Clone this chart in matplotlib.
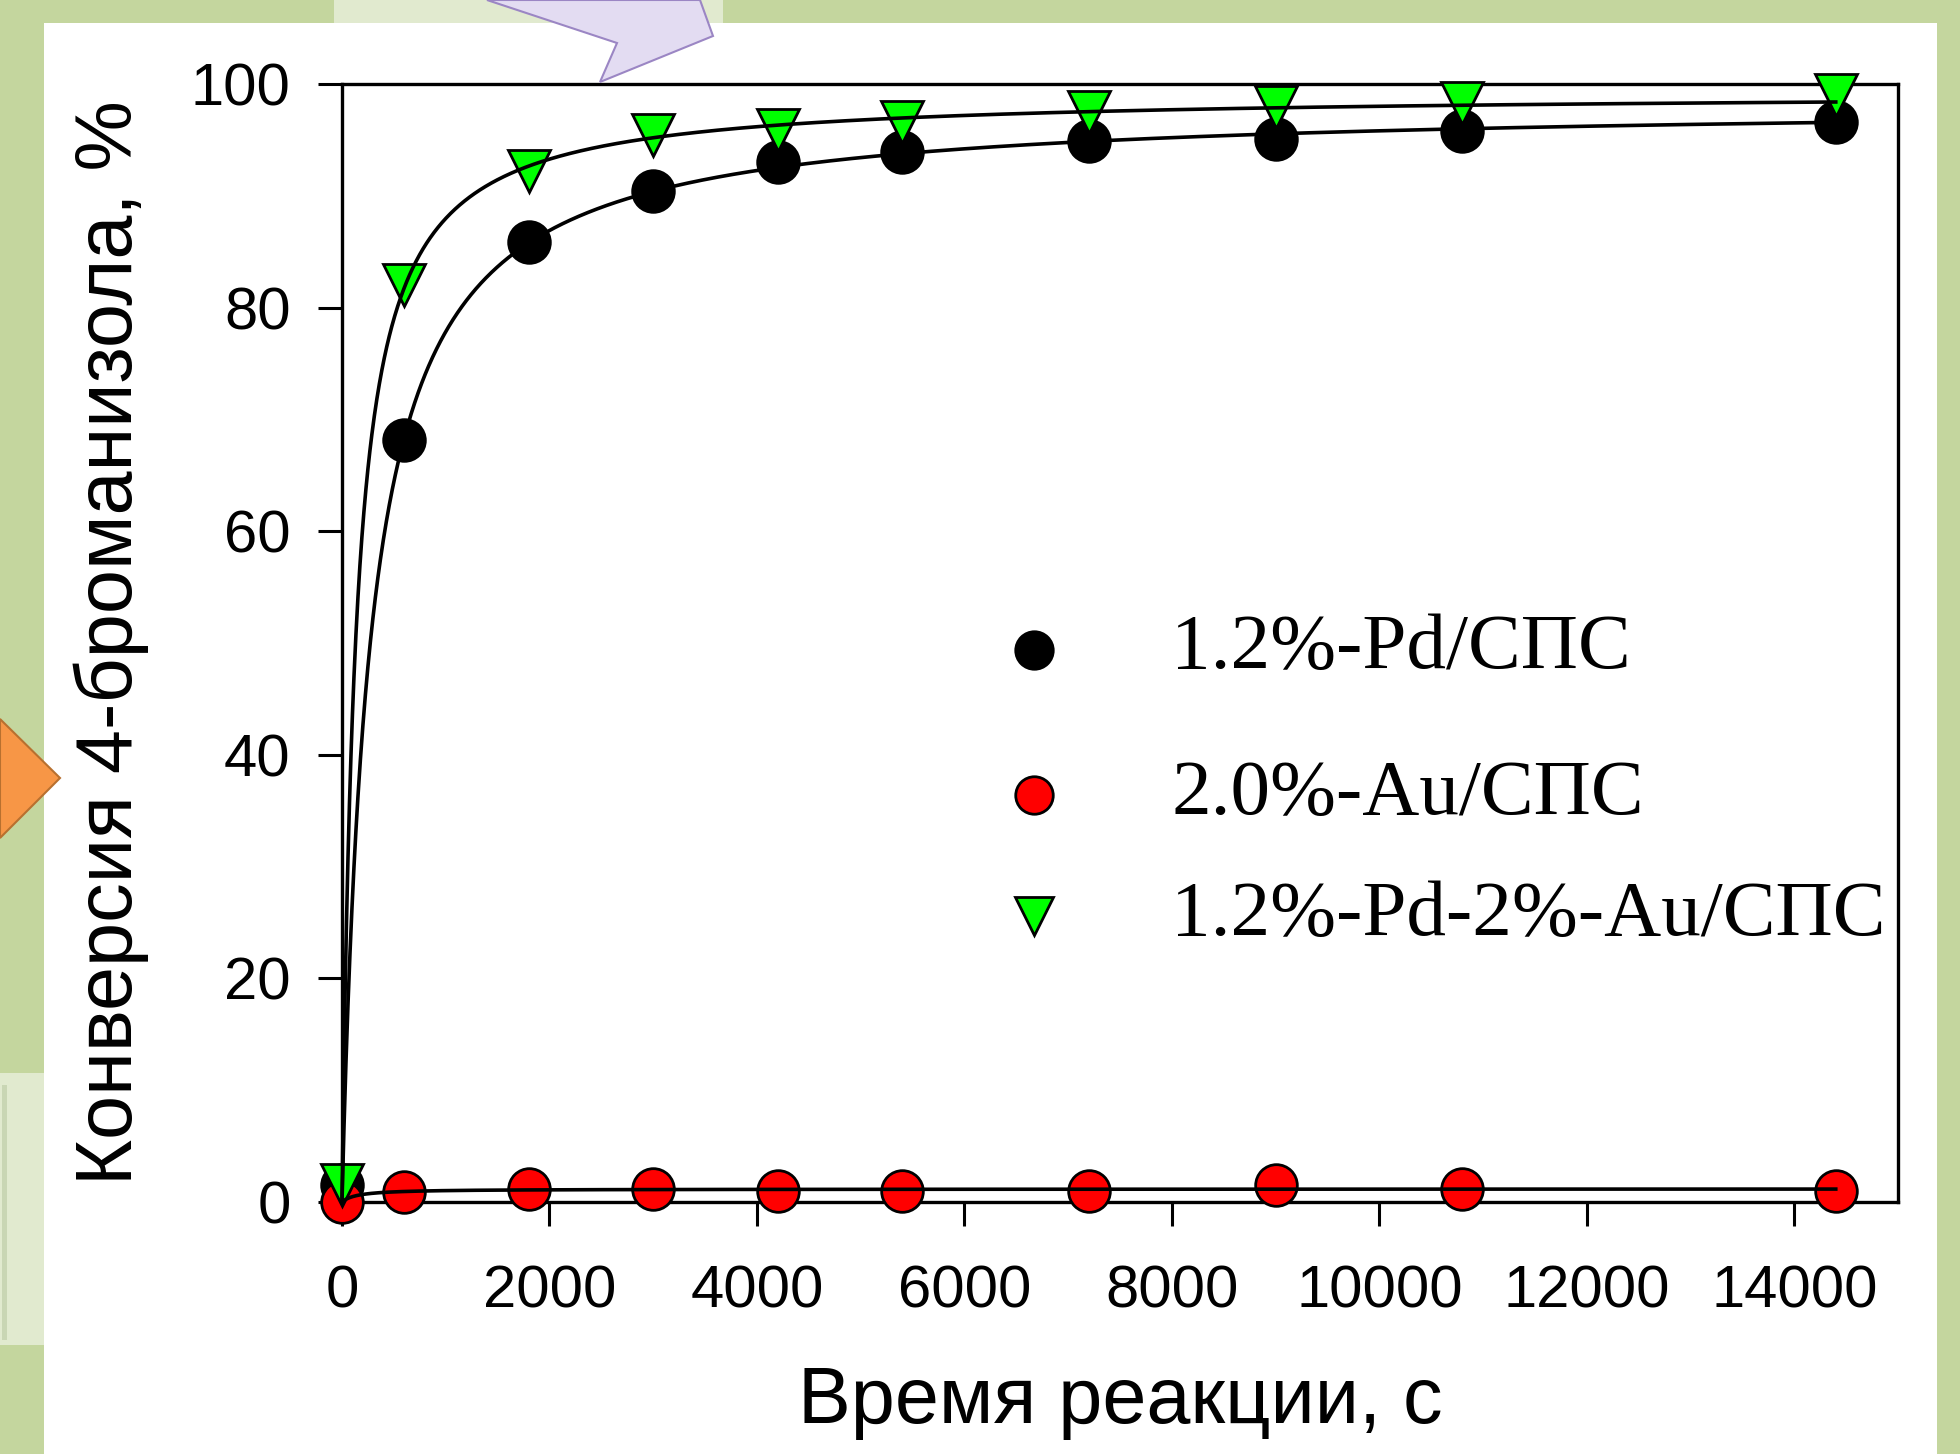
import numpy as np
import matplotlib
matplotlib.use("Agg")
import matplotlib.pyplot as plt
from matplotlib.patches import Rectangle, Polygon

# ---------------- data ----------------
time_s = [0, 600, 1800, 3000, 4200, 5400, 7200, 9000, 10800, 14400]
conv_pd = [1.5, 68.2, 85.9, 90.4, 93.0, 93.9, 94.9, 95.1, 95.8, 96.6]
conv_au = [0.0, 0.9, 1.2, 1.2, 1.0, 1.0, 1.0, 1.5, 1.2, 1.0]
conv_pdau = [1.5, 82.0, 92.2, 95.4, 95.9, 96.6, 97.5, 97.9, 98.3, 99.0]
labels = ["1.2%-Pd/СПС", "2.0%-Au/СПС", "1.2%-Pd-2%-Au/СПС"]
xticks = [0, 2000, 4000, 6000, 8000, 10000, 12000, 14000]
yticks = [0, 20, 40, 60, 80, 100]
xlabel = "Время реакции, с"
ylabel = "Конверсия 4-броманизола, %"

W, H = 1960, 1454


def hyperbola_fit(x, y):
    """Least-squares fit of y = a*x/(b+x) (grid over b, linear in a)."""
    x = np.asarray(x, float)
    y = np.asarray(y, float)
    best = None
    for b in np.logspace(-1, 4.5, 3000):
        f = x / (b + x)
        a = np.dot(f, y) / np.dot(f, f)
        err = np.sum((a * f - y) ** 2)
        if best is None or err < best[0]:
            best = (err, a, b)
    return best[1], best[2]


def fx(px):
    return px / W


def fy(py):
    return 1 - py / H


fig = plt.figure(figsize=(W / 100, H / 100), dpi=100)
fig.patch.set_facecolor("#c4d69e")

# slide decorations
fig.add_artist(Rectangle((fx(334), fy(23)), fx(723) - fx(334), fy(0) - fy(23),
                         transform=fig.transFigure, facecolor="#e1eacf",
                         edgecolor="none", zorder=-3))
fig.add_artist(Rectangle((fx(44), 0), fx(1937) - fx(44), fy(23),
                         transform=fig.transFigure, facecolor="white",
                         edgecolor="none", zorder=-2))
fig.add_artist(Rectangle((0, fy(1345)), fx(44), fy(1073) - fy(1345),
                         transform=fig.transFigure, facecolor="#e1eacf",
                         edgecolor="none", zorder=-1))
fig.add_artist(Rectangle((fx(2), fy(1340)), fx(5), fy(1085) - fy(1340),
                         transform=fig.transFigure, facecolor="#c9d6b4",
                         edgecolor="none", zorder=-1))
fig.add_artist(Polygon([(fx(487), fy(0)), (fx(617), fy(43)), (fx(600), fy(82)),
                        (fx(713), fy(36)), (fx(700), fy(0))],
                       closed=True, transform=fig.transFigure,
                       facecolor="#e3dcf2", edgecolor="#9b86c4", lw=1.5, zorder=3))
fig.add_artist(Polygon([(0, fy(719)), (fx(60), fy(778)), (0, fy(838))],
                       closed=True, transform=fig.transFigure,
                       facecolor="#f79646", edgecolor="#b8702f", lw=1.5, zorder=3))

ax = fig.add_axes([342 / W, 1 - 1202 / H, 1556 / W, 1118 / H])
ax.set_facecolor("white")

ms = 30
series = [
    (conv_pd, "o", "black"),
    (conv_au, "o", "#ff0000"),
    (conv_pdau, "v", "#00ff00"),
]
xx = np.linspace(0, time_s[-1], 3000)
for ys, mk, col in series:
    ax.plot(time_s, ys, linestyle="none", marker=mk, ms=ms, mfc=col,
            mec="black", mew=2, zorder=3, clip_on=False)
    a, b = hyperbola_fit(time_s, ys)
    ax.plot(xx, a * xx / (b + xx), color="black", lw=2.6, zorder=4,
            clip_on=False)

ax.set_xlim(0, 15000)
ax.set_ylim(0, 100)
ax.set_xticks(xticks)
ax.set_yticks(yticks)
ax.set_xticklabels([str(v) for v in xticks])
ax.set_yticklabels([str(v) for v in yticks])
for s in ax.spines.values():
    s.set_linewidth(2.4)
ax.tick_params(direction="out", length=17, width=2.2, labelsize=43)
ax.tick_params(axis="x", pad=28)
ax.tick_params(axis="y", pad=20)
for lab in ax.get_xticklabels() + ax.get_yticklabels():
    lab.set_fontfamily("Liberation Sans")

ax.set_xlabel(xlabel, fontsize=57, family="Liberation Sans")
ax.xaxis.set_label_coords(0.5, -0.179)
ax.xaxis.label.set_va("center")
ax.set_ylabel(ylabel, fontsize=57, family="Liberation Sans")
ax.yaxis.set_label_coords(-0.148, 0.5)
ax.yaxis.label.set_va("center")

# legend (manual layout)
leg_y = [0.494, 0.364, 0.256]
for (ys, mk, col), lab, yy in zip(series, labels, leg_y):
    ax.plot([0.445], [yy], transform=ax.transAxes, linestyle="none", marker=mk,
            ms=27, mfc=col, mec="black", mew=2, clip_on=False, zorder=5)
    ax.text(0.533, yy, lab, transform=ax.transAxes, fontsize=57,
            family="Liberation Serif", va="center", ha="left")

fig.savefig("out.png", dpi=100, facecolor=fig.get_facecolor())
